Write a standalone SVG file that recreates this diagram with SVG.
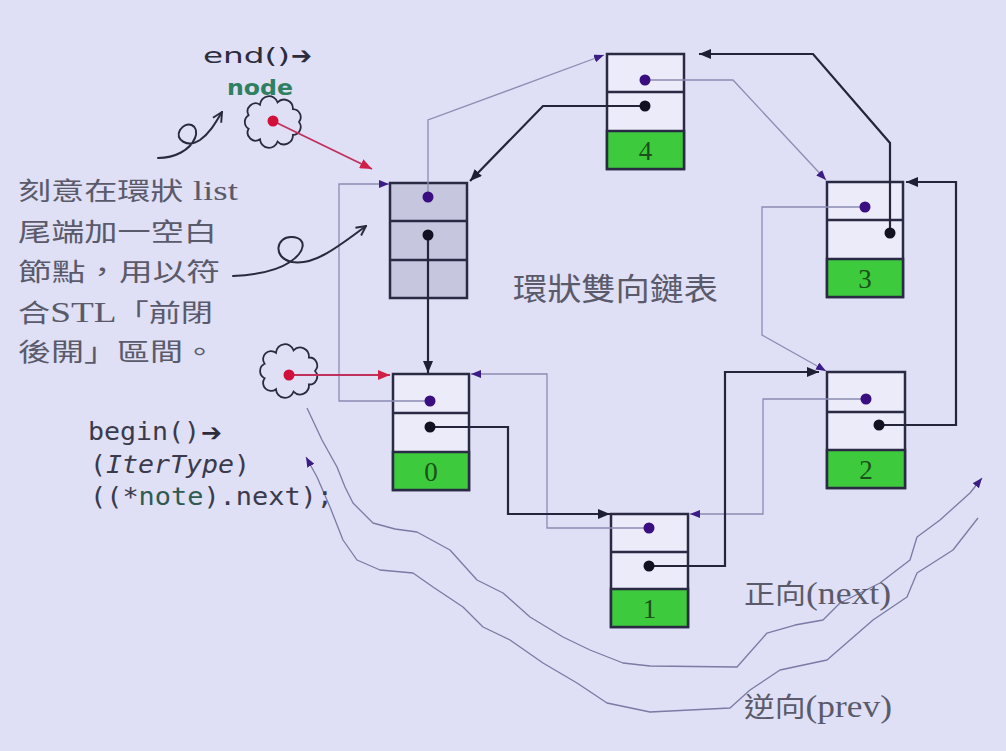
<svg xmlns="http://www.w3.org/2000/svg" width="1006" height="751" viewBox="0 0 1006 751">
<defs>
<style>
.bg{fill:#dfdff5}
.box{fill:#ebebfa;stroke:#2a2a44;stroke-width:2.5}
.boxe{fill:#c6c6de;stroke:#2a2a44;stroke-width:2.5}
.grn{fill:#3dca3d;stroke:#2a2a44;stroke-width:2.5}
.div{stroke:#2a2a44;stroke-width:2.5}
.num{font-family:"Liberation Serif",serif;font-size:27px;fill:#1c4f1c;text-anchor:middle}
.nx{fill:none;stroke:#24243a;stroke-width:2.2;stroke-linejoin:miter;marker-start:url(#dotK);marker-end:url(#arK)}
.pv{fill:none;stroke:#8c8cb4;stroke-width:1.3;marker-start:url(#dotP);marker-end:url(#arP)}
.rd{fill:none;stroke:#c0305a;stroke-width:1.8;marker-start:url(#dotR);marker-end:url(#arR)}
.wv{fill:none;stroke:#7a7aa4;stroke-width:1.3;stroke-linejoin:round;marker-end:url(#arP)}
.sq{fill:none;stroke:#2a2a3c;stroke-width:2;stroke-linecap:round;marker-end:url(#arO)}
.cloud{fill:none;stroke:#2a2a3c;stroke-width:1.8}
.cjk{font-family:"Noto Sans CJK TC","Noto Sans CJK SC",sans-serif;fill:#5a5a6a}
.ser{font-family:"Liberation Serif",serif}
.mono{font-family:"DejaVu Sans Mono","Liberation Mono",monospace;font-size:25px;fill:#3a3a4c}
</style>
<marker id="arK" viewBox="0 0 12 10" refX="12" refY="5" markerWidth="12" markerHeight="10" markerUnits="userSpaceOnUse" orient="auto"><path d="M0,0L12,5L0,10z" fill="#1e1e34"/></marker>
<marker id="arP" viewBox="0 0 10 8" refX="10" refY="4" markerWidth="10" markerHeight="8" markerUnits="userSpaceOnUse" orient="auto"><path d="M0,0L10,4L0,8z" fill="#3c1c86"/></marker>
<marker id="arR" viewBox="0 0 12 10" refX="12" refY="5" markerWidth="12" markerHeight="10" markerUnits="userSpaceOnUse" orient="auto"><path d="M0,0L12,5L0,10z" fill="#d02048"/></marker>
<marker id="arO" viewBox="0 0 10 10" refX="9" refY="5" markerWidth="12" markerHeight="12" markerUnits="userSpaceOnUse" orient="auto"><path d="M1,1L9,5L1,9" fill="none" stroke="#2a2a3c" stroke-width="1.6"/></marker>
<marker id="dotK" viewBox="-6 -6 12 12" refX="0" refY="0" markerWidth="12" markerHeight="12" markerUnits="userSpaceOnUse"><circle r="5.5" fill="#111122"/></marker>
<marker id="dotP" viewBox="-6 -6 12 12" refX="0" refY="0" markerWidth="12" markerHeight="12" markerUnits="userSpaceOnUse"><circle r="5.5" fill="#3a0d80"/></marker>
<marker id="dotR" viewBox="-6 -6 12 12" refX="0" refY="0" markerWidth="12" markerHeight="12" markerUnits="userSpaceOnUse"><circle r="5.5" fill="#d0103a"/></marker>
</defs>
<rect class="bg" x="0" y="0" width="1006" height="751"/>

<!-- nodes -->
<g id="node-empty">
<rect class="boxe" x="390" y="183" width="77" height="115"/>
<line class="div" x1="390" y1="221" x2="467" y2="221"/>
<line class="div" x1="390" y1="260" x2="467" y2="260"/>
</g>
<g id="node-4">
<rect class="box" x="607" y="54" width="77" height="115"/>
<line class="div" x1="607" y1="92" x2="684" y2="92"/>
<rect class="grn" x="607" y="131" width="77" height="38"/>
<text class="num" x="645.5" y="160">4</text>
</g>
<g id="node-3">
<rect class="box" x="827" y="182" width="76" height="115"/>
<line class="div" x1="827" y1="220" x2="903" y2="220"/>
<rect class="grn" x="827" y="259" width="76" height="38"/>
<text class="num" x="865" y="288">3</text>
</g>
<g id="node-2">
<rect class="box" x="827" y="372" width="78" height="116"/>
<line class="div" x1="827" y1="412" x2="905" y2="412"/>
<rect class="grn" x="827" y="450" width="78" height="38"/>
<text class="num" x="866" y="479">2</text>
</g>
<g id="node-0">
<rect class="box" x="393" y="374" width="76" height="116"/>
<line class="div" x1="393" y1="413" x2="469" y2="413"/>
<rect class="grn" x="393" y="452" width="76" height="38"/>
<text class="num" x="431" y="481">0</text>
</g>
<g id="node-1">
<rect class="box" x="611" y="514" width="77" height="113"/>
<line class="div" x1="611" y1="552" x2="688" y2="552"/>
<rect class="grn" x="611" y="589" width="77" height="38"/>
<text class="num" x="649.5" y="618">1</text>
</g>

<g id="end-pointer">
<path class="cloud" d="M299,122 A8,8 0 0 1 292.9,134.9 A9,9 0 0 1 277.5,141.7 A9,9 0 0 1 260,139.3 A8,8 0 0 1 248.6,128.8 A8,8 0 0 1 248.6,115.2 A8,8 0 0 1 260,104.7 A9,9 0 0 1 277.5,102.3 A9,9 0 0 1 292.9,109.1 A8,8 0 0 1 299,122 Z"/>
<text x="227" y="95" font-family="DejaVu Sans, sans-serif" font-size="22" font-weight="bold" fill="#2e8060" textLength="66" lengthAdjust="spacingAndGlyphs">node</text>
</g>
<g id="begin-pointer">
<path class="cloud" d="M315,371 A8,8 0 0 1 308.9,384.5 A9,9 0 0 1 293.5,391.7 A9,9 0 0 1 276,389.2 A8,8 0 0 1 264.6,378.2 A8,8 0 0 1 264.6,363.8 A8,8 0 0 1 276,352.8 A9,9 0 0 1 293.5,350.3 A9,9 0 0 1 308.9,357.5 A8,8 0 0 1 315,371 Z"/>
</g>

<!-- connectors -->
<g id="connectors">
<g id="prev-links">
<path class="pv" d="M428,197 V120 L604,55"/>
<path class="pv" d="M645,80 H733 L826,180"/>
<path class="pv" d="M865,207 H762 V335 L826,371"/>
<path class="pv" d="M866,399 H763 V514 H690"/>
<path class="pv" d="M649,528 H547 V374 H471"/>
<path class="pv" d="M430,401 H339 V184 H389"/>
</g>
<g id="next-links">
<path class="nx" d="M428,235 V373"/>
<path class="nx" d="M430,427 H508 V514 H610"/>
<path class="nx" d="M649,566 H725 V372 H819"/>
<path class="nx" d="M879,425 H956 V182 H906"/>
<path class="nx" d="M890,233 V143 L813,54 H699"/>
<path class="nx" d="M645,106 H543 L470,181"/>
</g>
<g id="pointer-links">
<path class="rd" d="M273,121 L372,169"/>
<path class="rd" d="M289,375 L390,375"/>
</g>
<g id="traversal">
<path class="wv" d="M307,408 L322,440 L337,467 L345,487 L353,503 L373,523 L395,529 L417,532 L450,550 L477,580 L503,593 L530,617 L563,637 L590,650 L623,663 L650,666 L737,667 L767,633 L795,625 L823,620 L840,603 L880,583 L910,560 L917,537 L940,520 L970,493 L982,478"/>
<path class="wv" d="M978,518 L953,550 L917,573 L907,597 L873,620 L827,660 L780,670 L750,690 L730,708 L650,712 L607,703 L577,683 L543,663 L510,640 L483,627 L463,607 L433,587 L413,573 L380,570 L357,560 L343,540 L330,507 L317,477 L306,457"/>
</g>
<g id="callouts">
<path class="sq" d="M158,158 C175,158 190,150 195,138 C200,124 186,120 180,130 C174,140 188,148 200,140 C210,133 216,122 222,112"/>
<path class="sq" d="M233,276 C255,275 275,272 290,262 C305,252 308,238 292,237 C276,236 272,258 292,262 C315,266 340,245 366,226"/>
</g>
</g>

<!-- texts -->
<text x="203" y="63" font-family="DejaVu Sans, sans-serif" font-size="22" fill="#2c2c3c" textLength="87" lengthAdjust="spacingAndGlyphs">end()</text>
<text x="291" y="64" font-family="DejaVu Sans, sans-serif" font-size="25" font-weight="bold" fill="#2c2c3c">➔</text>

<g class="cjk" font-size="25">
<text x="18" y="200" textLength="220" lengthAdjust="spacingAndGlyphs">刻意在環狀<tspan class="ser" font-size="28"> list</tspan></text>
<text x="18" y="241" textLength="199" lengthAdjust="spacingAndGlyphs">尾端加一空白</text>
<text x="18" y="281" textLength="202" lengthAdjust="spacingAndGlyphs">節點，用以符</text>
<text x="18" y="322" textLength="195" lengthAdjust="spacingAndGlyphs">合<tspan class="ser" font-size="29">STL</tspan>「前閉</text>
<text x="18" y="361" textLength="198" lengthAdjust="spacingAndGlyphs">後開」區間。</text>
</g>

<text class="cjk" x="513" y="300" font-size="31" fill="#555565" textLength="205" lengthAdjust="spacingAndGlyphs">環狀雙向鏈表</text>

<text class="mono" x="88" y="440" textLength="112" lengthAdjust="spacingAndGlyphs">begin()</text>
<text x="201" y="441" font-family="DejaVu Sans, sans-serif" font-size="25" font-weight="bold" fill="#2c2c3c">➔</text>
<text class="mono" x="90" y="473" textLength="160" lengthAdjust="spacingAndGlyphs">(<tspan font-style="italic">IterType</tspan>)</text>
<text class="mono" x="90" y="505" textLength="243" lengthAdjust="spacingAndGlyphs">((*<tspan fill="#2f5a50">note</tspan>).next);</text>

<text class="cjk" x="744" y="604" font-size="27" fill="#4a4a5a" textLength="147" lengthAdjust="spacingAndGlyphs">正向<tspan class="ser" font-size="31">(next)</tspan></text>
<text class="cjk" x="744" y="717" font-size="27" fill="#4a4a5a" textLength="148" lengthAdjust="spacingAndGlyphs">逆向<tspan class="ser" font-size="31">(prev)</tspan></text>
</svg>
